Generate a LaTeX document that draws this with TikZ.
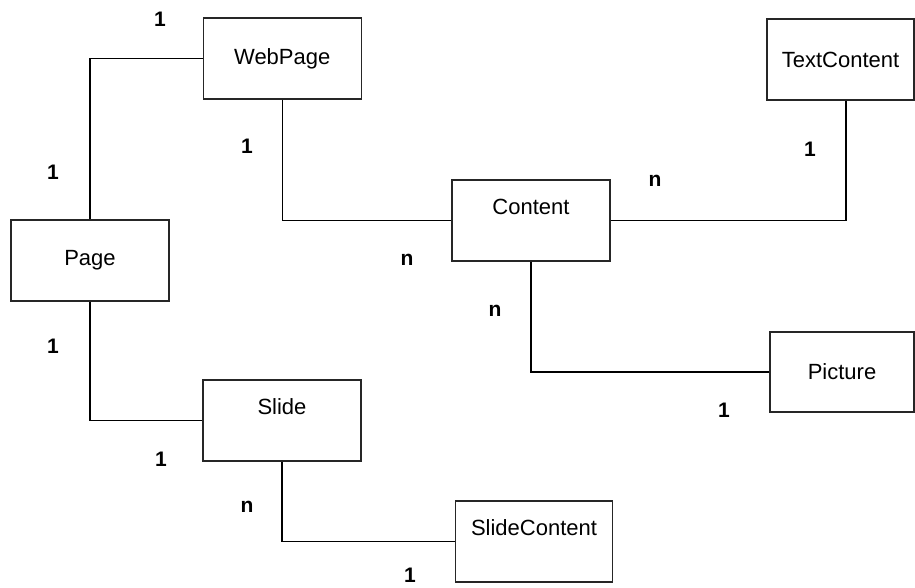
\documentclass[tikz,border=0pt]{standalone}
\usepackage{fontspec}
\setmainfont{Liberation Sans}
\usepackage{tikz}

\begin{document}
\begin{tikzpicture}[x=1pt, y=-1pt,
        entitynode/.style={rectangle, draw=black!85, line width=1.2pt, inner sep=0pt, minimum width=158pt, minimum height=81pt, font=\fontsize{22}{26}\selectfont},
        topnode/.style={entitynode, text height=16pt, text depth=29pt},
        cardnode/.style={font=\fontsize{21}{25}\selectfont\bfseries, inner sep=0pt},
        link/.style={draw=black, line width=1.2pt}]

        \useasboundingbox (0,0) rectangle (915,587);

        % entities
        \node[entitynode] (webpage) at (282.25,58.5) {WebPage};
        \node[entitynode] (page) at (90,260.5) {Page};
        \node[topnode] (content) at (531,220.5) {Content};
        \node[entitynode, minimum width=147pt] (textcontent) at (840.5,59.5) {TextContent};
        \node[entitynode, minimum width=144pt, minimum height=80pt] (picture) at (842,372) {Picture};
        \node[topnode] (slide) at (282,420.5) {Slide};
        \node[topnode, minimum width=157pt] (slidecontent) at (534,541.5) {SlideContent};

        % relations
        \draw[link] (page.north) |- (webpage.west);
        \draw[link] (webpage.south) |- (content.west);
        \draw[link] (content.east) -| ([xshift=5.5pt]textcontent.south);
        \draw[link] (content.south) |- (picture.west);
        \draw[link] (page.south) |- (slide.west);
        \draw[link] (slide.south) |- (slidecontent.west);

        % cardinalities
        \node[cardnode] (c1) at (160,19) {1};
        \node[cardnode] (c2) at (53,172) {1};
        \node[cardnode] (c3) at (247,146) {1};
        \node[cardnode] (c4) at (407,260) {n};
        \node[cardnode] (c5) at (655,181) {n};
        \node[cardnode] (c6) at (810,149) {1};
        \node[cardnode] (c7) at (495,311) {n};
        \node[cardnode] (c8) at (724,410) {1};
        \node[cardnode] (c9) at (53,346) {1};
        \node[cardnode] (c10) at (161,459) {1};
        \node[cardnode] (c11) at (247,507) {n};
        \node[cardnode] (c12) at (410,575) {1};

\end{tikzpicture}
\end{document}
